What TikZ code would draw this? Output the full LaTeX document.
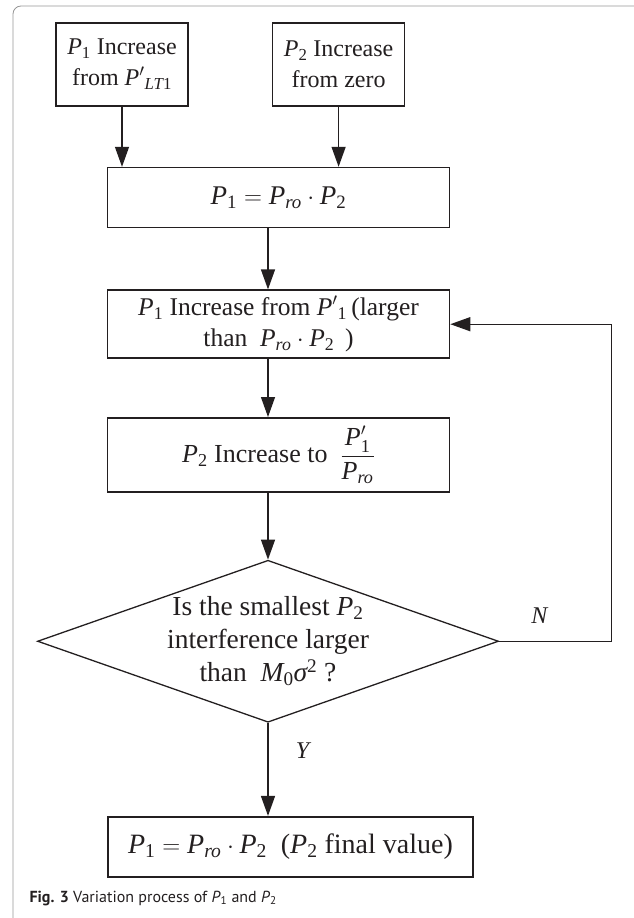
\documentclass[tikz,border=0pt]{standalone}
\usepackage{amsmath}
\usepackage{fontspec}
\setmainfont{Liberation Serif}
\newfontfamily\capfont{PT Sans}
\usetikzlibrary{shapes.geometric, arrows.meta, positioning}
\definecolor{inkblack}{RGB}{35,31,32}
\definecolor{framegray}{RGB}{150,150,150}
\newcommand{\iv}[1]{\text{\itshape #1}}

\begin{document}
\begin{tikzpicture}[
  x=1pt, y=-1pt,
  stepbox/.style={rectangle, draw=inkblack, line width=1.6pt, text=inkblack,
                  minimum width=132pt, minimum height=83pt, inner sep=2pt,
                  font=\fontsize{24}{31}\selectfont, align=center},
  widebox/.style={stepbox, minimum width=342pt, font=\fontsize{25.5}{31}\selectfont},
  eqbox/.style={widebox, font=\fontsize{27}{32}\selectfont},
  decision/.style={diamond, draw=inkblack, line width=1.3pt,
                   minimum width=461pt, minimum height=162pt, inner sep=0pt},
  arrow/.style={-{Triangle[length=20pt, width=14pt]}, line width=1.3pt, inkblack},
  answer/.style={font=\fontsize{24}{24}\selectfont\itshape, text=inkblack},
]
\useasboundingbox (0,0) rectangle (634,918);

% Frame
\draw[framegray, line width=0.8pt, rounded corners=8pt] (13,918) |- (634,6);

% Start
\node[stepbox] (incone) at (122,64.5) {$\iv{P}_{\text{1}}$ Increase\\from $\iv{P}^{\prime}{}_{\iv{LT}\text{1}}$};
\node[stepbox, right=83pt of incone] (inctwo) {$\iv{P}_{\text{2}}$ Increase\\from zero};

% Main column
\node[eqbox, minimum height=60pt, below=60pt of incone, xshift=156.5pt] (ratio) {$\iv{P}_{\text{1}} = \iv{P}_{\iv{ro}}\cdot\iv{P}_{\text{2}}$};
\node[widebox, minimum height=68pt, below=61pt of ratio] (incthree) {$\iv{P}_{\text{1}}$ Increase from $\iv{P}^{\prime}{}_{\text{1}}$\,(larger\\than\ \ $\iv{P}_{\iv{ro}}\cdot\iv{P}_{\text{2}}$\ \,)};
\node[widebox, minimum height=74pt, below=58pt of incthree, font=\fontsize{26}{31}\selectfont] (incfour) {$\iv{P}_{\text{2}}$ Increase to\ \ $\dfrac{\iv{P}_{\text{1}}^{\prime}}{\iv{P}_{\iv{ro}}}$};
\node[decision, below=67pt of incfour, xshift=-10.5pt] (check) {};
\node[align=center, text=inkblack, font=\fontsize{27.5}{33}\selectfont] (checktext) at (check.center) {Is the smallest $\iv{P}_{\text{2}}$\\interference larger\\than\ \ $\iv{M}_{\text{0}}\iv{σ}^{\text{2}}$ ?};
\node[eqbox, minimum width=365pt, minimum height=60pt, below=93pt of check, xshift=22.5pt, font=\fontsize{28}{32}\selectfont] (final) {$\iv{P}_{\text{1}} = \iv{P}_{\iv{ro}}\cdot\iv{P}_{\text{2}}$\ \ ($\iv{P}_{\text{2}}$ final value)};

\draw[arrow] (incone.south) -- (incone.south |- ratio.north);
\draw[arrow] (inctwo.south) -- (inctwo.south |- ratio.north);
\draw[arrow] (ratio.south -| check.north) -- (incthree.north -| check.north);
\draw[arrow] (incthree.south -| check.north) -- (incfour.north -| check.north);
\draw[arrow] (incfour.south -| check.north) -- (check.north);
\draw[arrow] (check.south) -- node[answer, right=24pt, pos=0.3] {Y} (final.north -| check.south);
\draw[arrow] (check.east) -- node[answer, above=14pt, pos=0.36] {N} ++(112,0) |- (incthree.east);

% Caption
\node[anchor=west, text=inkblack, font=\capfont\fontsize{16}{16}\selectfont] (caption) at (26,898) {\textbf{Fig. 3} Variation process of \textit{P}\textsubscript{1} and \textit{P}\textsubscript{2}};

\end{tikzpicture}
\end{document}
